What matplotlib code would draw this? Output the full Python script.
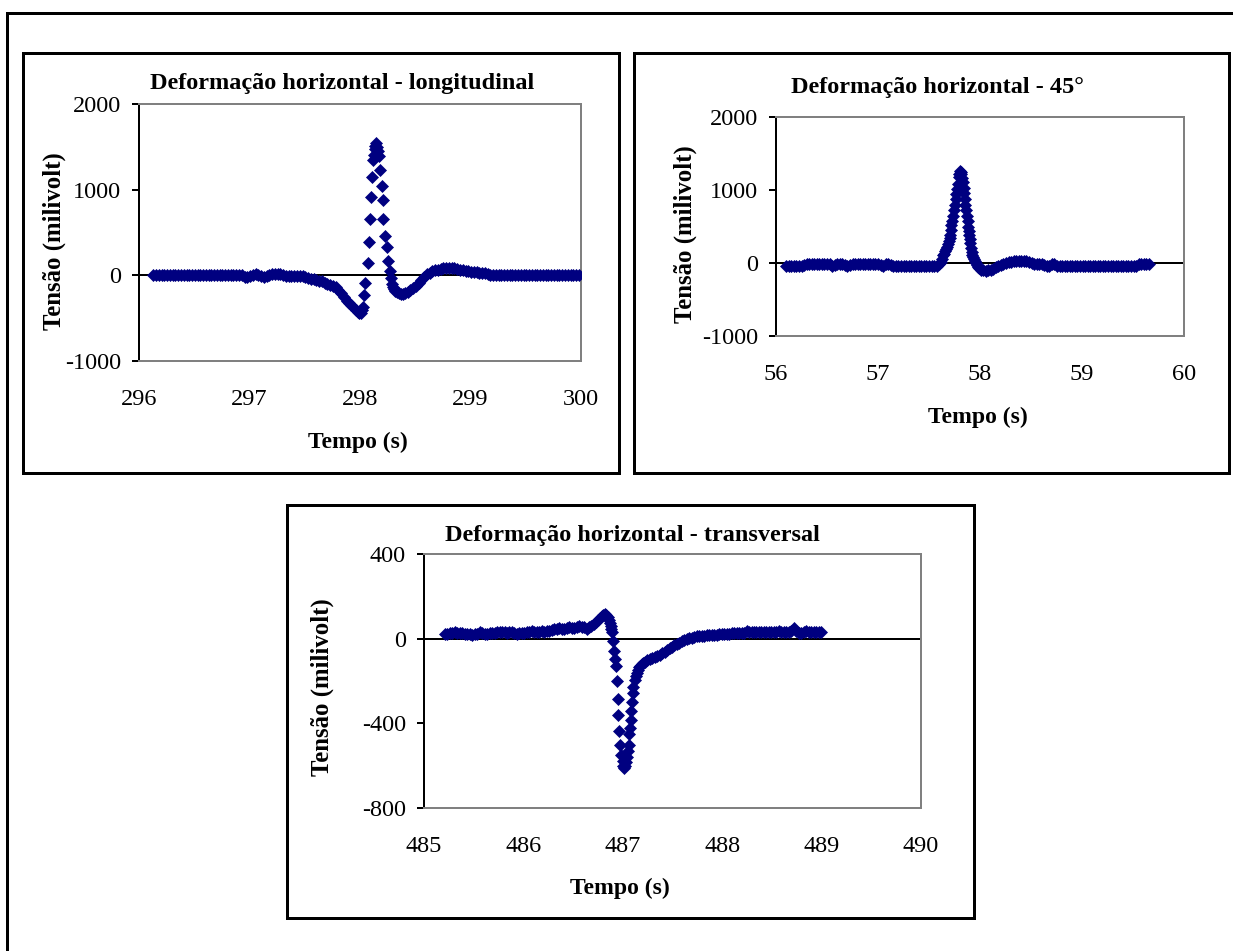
import matplotlib
matplotlib.use("Agg")
import matplotlib.pyplot as plt
from matplotlib.patches import Rectangle

plt.rcParams['font.family'] = ['Liberation Serif', 'DejaVu Serif']
plt.rcParams['axes.unicode_minus'] = False

# ---------------- data ----------------
# Panel 1: Deformação horizontal - longitudinal
t1_flat_a = [296.13, 296.155, 296.18, 296.205, 296.23, 296.255, 296.28, 296.305, 296.33, 296.355,
             296.38, 296.405, 296.43, 296.455, 296.48, 296.505, 296.53, 296.555, 296.58, 296.605,
             296.63, 296.655, 296.68, 296.705, 296.73, 296.755, 296.78, 296.805, 296.83, 296.855,
             296.88, 296.905, 296.93]
v1_flat_a = [0, 0, 0, 0, 0, 0, 0, 0, 0, 0,
             0, 0, 0, 0, 0, 0, 0, 0, 0, 0,
             0, 0, 0, 0, 0, 0, 0, 0, 0, 0,
             0, 0, 0]
t1_dip = [296.955, 296.98, 297.005, 297.03, 297.055, 297.08, 297.105, 297.13, 297.155, 297.18,
          297.205, 297.23, 297.255, 297.28, 297.305, 297.33, 297.355, 297.38, 297.405, 297.43,
          297.455, 297.48, 297.505, 297.53, 297.555, 297.58, 297.605, 297.63, 297.655, 297.68,
          297.705, 297.73, 297.755, 297.78, 297.805, 297.83, 297.855, 297.88, 297.90, 297.92,
          297.94, 297.96, 297.98, 297.995, 298.01, 298.02, 298.03]
v1_dip = [-15, -20, -10, 5, 10, 5, -10, -20, -10, 5,
          10, 10, 10, 10, 5, -5, -10, -10, -5, -10,
          -10, -10, -20, -35, -40, -45, -55, -65, -70, -85,
          -100, -110, -120, -140, -170, -210, -255, -295, -325, -350,
          -370, -400, -425, -445, -440, -410, -370]
t1_peak = [298.035, 298.043, 298.068, 298.085, 298.092, 298.104, 298.106, 298.12, 298.13, 298.135,
           298.14, 298.148, 298.155, 298.16, 298.175, 298.185, 298.195, 298.205, 298.21, 298.228,
           298.243, 298.255, 298.268, 298.28, 298.29, 298.30, 298.31, 298.32, 298.335, 298.35,
           298.37, 298.39, 298.41, 298.43, 298.455, 298.48, 298.505, 298.53, 298.555, 298.58,
           298.605, 298.63, 298.655, 298.68, 298.705, 298.73, 298.755, 298.78, 298.805, 298.83,
           298.855, 298.88, 298.905, 298.93, 298.955, 298.98, 299.005, 299.03, 299.055, 299.08,
           299.105, 299.13, 299.155, 299.18]
v1_peak = [-232, -86, 149, 385, 659, 910, 1145, 1341, 1400, 1470,
           1510, 1540, 1500, 1450, 1396, 1227, 1043, 874, 659, 463,
           325, 169, 51, -27, -106, -140, -165, -180, -195, -205,
           -215, -222, -212, -195, -172, -148, -120, -90, -55, -20,
           10, 30, 45, 60, 65, 70, 80, 90, 90, 85,
           80, 70, 65, 60, 55, 45, 40, 40, 35, 30,
           25, 30, 15, 5]
t1_flat_b = [299.205, 299.23, 299.255, 299.28, 299.305, 299.33, 299.355, 299.38, 299.405, 299.43,
             299.455, 299.48, 299.505, 299.53, 299.555, 299.58, 299.605, 299.63, 299.655, 299.68,
             299.705, 299.73, 299.755, 299.78, 299.805, 299.83, 299.855, 299.88, 299.905, 299.93,
             299.955, 299.98]
v1_flat_b = [0, 0, 0, 0, 0, 0, 0, 0, 0, 0,
             0, 0, 0, 0, 0, 0, 0, 0, 0, 0,
             0, 0, 0, 0, 0, 0, 0, 0, 0, 0,
             0, 0]

# Panel 2: Deformação horizontal - 45°
t2_flat_a = [56.100, 56.125, 56.150, 56.175, 56.200, 56.225, 56.250, 56.275, 56.300, 56.325,
             56.350, 56.375, 56.400, 56.425, 56.450, 56.475, 56.500, 56.525, 56.550, 56.575,
             56.600, 56.625, 56.650, 56.675, 56.700, 56.725, 56.750, 56.775, 56.800, 56.825,
             56.850, 56.875, 56.900, 56.925, 56.950, 56.975, 57.000, 57.025, 57.050, 57.075,
             57.100, 57.125, 57.150, 57.175, 57.200, 57.225, 57.250, 57.275, 57.300, 57.325,
             57.350, 57.375, 57.400, 57.425, 57.450, 57.475, 57.500, 57.525, 57.550, 57.575,
             57.600]
v2_flat_a = [-40, -40, -40, -40, -40, -40, -35, -30, -15, -10,
             -10, -10, -10, -10, -15, -10, -10, -15, -40, -25,
             -10, -10, -15, -30, -40, -30, -10, -10, -10, -10,
             -10, -10, -10, -10, -10, -10, -15, -30, -40, -20,
             -15, -25, -40, -40, -40, -40, -40, -40, -40, -40,
             -40, -40, -40, -40, -40, -40, -40, -40, -40, -40,
             -20]
t2_peak = [57.615, 57.63, 57.64, 57.65, 57.66, 57.67, 57.68, 57.69, 57.70, 57.705,
           57.71, 57.715, 57.72, 57.73, 57.735, 57.745, 57.75, 57.76, 57.765, 57.775,
           57.78, 57.79, 57.795, 57.80, 57.81, 57.815, 57.825, 57.83, 57.84, 57.845,
           57.85, 57.855, 57.865, 57.87, 57.878, 57.882, 57.888, 57.893, 57.90, 57.905,
           57.912, 57.918, 57.925, 57.93, 57.94, 57.95, 57.96, 57.97, 57.98, 57.99,
           58.005, 58.03, 58.055, 58.08, 58.105, 58.13, 58.155, 58.18, 58.205, 58.23,
           58.255, 58.28, 58.305, 58.33, 58.355, 58.38, 58.405, 58.43, 58.455, 58.48,
           58.505, 58.53, 58.555, 58.58, 58.605, 58.63, 58.655, 58.68, 58.705, 58.73,
           58.755]
v2_peak = [10, 60, 107, 130, 160, 190, 220, 260, 300, 340,
           385, 450, 524, 580, 639, 720, 801, 870, 940, 1010,
           1079, 1172, 1220, 1264, 1250, 1218, 1160, 1103, 1030, 960,
           880, 801, 720, 639, 570, 500, 440, 385, 330, 269,
           210, 153, 110, 80, 50, 25, 0, -30, -56, -75,
           -90, -100, -105, -100, -95, -80, -60, -45, -30, -15,
           0, 10, 20, 25, 30, 30, 30, 30, 25, 15,
           -5, -15, -15, -10, -15, -25, -40, -35, -10, -20,
           -40]
t2_flat_b = [58.78, 58.805, 58.83, 58.855, 58.88, 58.905, 58.93, 58.955, 58.98, 59.005,
             59.03, 59.055, 59.08, 59.105, 59.13, 59.155, 59.18, 59.205, 59.23, 59.255,
             59.28, 59.305, 59.33, 59.355, 59.38, 59.405, 59.43, 59.455, 59.48, 59.505,
             59.53, 59.555, 59.58, 59.605, 59.63, 59.655]
v2_flat_b = [-40, -40, -40, -40, -40, -40, -40, -40, -40, -40,
             -40, -40, -40, -40, -40, -40, -40, -40, -40, -40,
             -40, -40, -40, -40, -40, -40, -40, -40, -40, -40,
             -40, -15, -10, -10, -10, -15]

# Panel 3: Deformação horizontal - transversal
t3_pre = [485.21, 485.235, 485.26, 485.285, 485.31, 485.335, 485.36, 485.385, 485.41, 485.435,
          485.46, 485.485, 485.51, 485.535, 485.56, 485.585, 485.61, 485.635, 485.66, 485.685,
          485.71, 485.735, 485.76, 485.785, 485.81, 485.835, 485.86, 485.885, 485.91, 485.935,
          485.96, 485.985, 486.01, 486.035, 486.06, 486.085, 486.11, 486.135, 486.16, 486.185,
          486.21, 486.235, 486.26, 486.285, 486.31, 486.335, 486.36, 486.385, 486.41, 486.435,
          486.46, 486.485, 486.51, 486.535, 486.56, 486.585, 486.61, 486.635, 486.66, 486.685,
          486.71]
v3_pre = [20, 20, 25, 25, 30, 25, 25, 25, 20, 20,
          20, 15, 20, 20, 30, 25, 20, 20, 25, 25,
          25, 30, 30, 30, 30, 25, 30, 30, 25, 20,
          25, 25, 25, 30, 30, 35, 30, 30, 30, 35,
          30, 35, 35, 40, 45, 45, 50, 45, 45, 50,
          55, 50, 50, 55, 60, 55, 55, 45, 55, 60,
          70]
t3_trough = [486.735, 486.755, 486.775, 486.79, 486.805, 486.82, 486.835, 486.85, 486.86, 486.87,
             486.878, 486.885, 486.892, 486.90, 486.91, 486.925, 486.935, 486.94, 486.95, 486.955,
             486.965, 486.97, 486.985, 487.0, 487.005, 487.01, 487.02, 487.03, 487.04, 487.05,
             487.06, 487.065, 487.07, 487.08, 487.085, 487.09, 487.10, 487.105, 487.12, 487.13,
             487.14, 487.15, 487.16, 487.175, 487.19, 487.205, 487.22]
v3_trough = [78, 88, 98, 105, 112, 115, 112, 102, 90, 75,
             60, 45, 30, -12, -57, -95, -131, -202, -286, -360,
             -435, -503, -550, -580, -600, -610, -600, -585, -560, -530,
             -500, -450, -420, -384, -344, -300, -258, -226, -194, -175,
             -160, -147, -135, -127, -120, -115, -110]
t3_post = [487.245, 487.27, 487.295, 487.32, 487.345, 487.37, 487.395, 487.42, 487.445, 487.47,
           487.495, 487.52, 487.545, 487.57, 487.595, 487.62, 487.645, 487.67, 487.695, 487.72,
           487.745, 487.77, 487.795, 487.82, 487.845, 487.87, 487.895, 487.92, 487.945, 487.97,
           487.995, 488.02, 488.045, 488.07, 488.095, 488.12, 488.145, 488.17, 488.195, 488.22,
           488.245, 488.27, 488.295, 488.32, 488.345, 488.37, 488.395, 488.42, 488.445, 488.47,
           488.495, 488.52, 488.545, 488.57, 488.595, 488.62, 488.645, 488.67, 488.695, 488.72,
           488.745, 488.77, 488.795, 488.82, 488.845, 488.87, 488.895, 488.92, 488.945, 488.97,
           488.995]
v3_post = [-103, -97, -92, -86, -81, -75, -69, -62, -53, -46,
           -39, -32, -25, -19, -13, -7, -3, 2, 5, 8,
           11, 12, 13, 14, 16, 16, 18, 19, 18, 21,
           22, 23, 24, 22, 25, 27, 26, 27, 28, 28,
           36, 31, 30, 30, 30, 30, 30, 32, 30, 30,
           30, 30, 33, 35, 30, 30, 30, 30, 35, 50,
           38, 28, 25, 30, 35, 32, 30, 30, 30, 30,
           30]

titles = ["Deformação horizontal - longitudinal",
          "Deformação horizontal - 45°",
          "Deformação horizontal - transversal"]
xlabel = "Tempo (s)"
ylabel = "Tensão (milivolt)"
xticks1 = [296, 297, 298, 299, 300]
xticks2 = [56, 57, 58, 59, 60]
xticks3 = [485, 486, 487, 488, 489, 490]
yticks1 = [-1000, 0, 1000, 2000]
yticks2 = [-1000, 0, 1000, 2000]
yticks3 = [-800, -400, 0, 400]

t1 = t1_flat_a + t1_dip + t1_peak + t1_flat_b
v1 = v1_flat_a + v1_dip + v1_peak + v1_flat_b
t2 = t2_flat_a + t2_peak + t2_flat_b
v2 = v2_flat_a + v2_peak + v2_flat_b
t3 = t3_pre + t3_trough + t3_post
v3 = v3_pre + v3_trough + v3_post

# ---------------- layout ----------------
W, H = 1233, 951
fig = plt.figure(figsize=(W / 100, H / 100), dpi=100)
fig.patch.set_facecolor('white')
PT = 0.72  # points per pixel at 100 dpi


def fx(x):
    return x / W


def fy(y):
    return 1 - y / H


def box(l, t, r, b, lw=3):
    fig.patches.append(Rectangle((fx(l), fy(b)), (r - l) / W, (b - t) / H,
                                 transform=fig.transFigure, fill=False,
                                 edgecolor='black', linewidth=lw * PT))


# outer frame (extends past the right/bottom edges)
box(7, 13, 1250, 970, lw=3)

NAVY = '#000080'
TICK_FS = 17.5
TITLE_FS = 17.5
YLAB_FS = 17.8
XLAB_FS = 17


def panel(frame, area, t, v, xt, yt, title, title_xy, ylab_xy, xlab_xy):
    box(*frame, lw=3)
    l, tp, r, b = area
    ax = fig.add_axes([fx(l), fy(b), (r - l) / W, (b - tp) / H])
    ax.set_xlim(xt[0], xt[-1])
    ax.set_ylim(yt[0], yt[-1])
    for s in ['top', 'right', 'bottom']:
        ax.spines[s].set_color('#808080')
        ax.spines[s].set_linewidth(2 * PT)
    ax.spines['left'].set_color('black')
    ax.spines['left'].set_linewidth(2 * PT)
    ax.axhline(0, color='black', lw=2 * PT, zorder=1)
    ax.plot(t, v, ls='none', marker='D', ms=6.0, color=NAVY,
            mec=NAVY, mew=0.5, zorder=3)
    ax.set_xticks(xt)
    ax.set_xticklabels([str(x) for x in xt])
    ax.set_yticks(yt)
    ax.set_yticklabels([str(y) for y in yt])
    ax.tick_params(axis='y', direction='out', length=7 * PT, width=2 * PT,
                   pad=11 * PT, labelsize=TICK_FS, colors='black')
    ax.tick_params(axis='x', length=0, pad=28 * PT, labelsize=TICK_FS)
    fig.text(fx(title_xy[0]), fy(title_xy[1]), title, ha='center', va='center',
             fontsize=TITLE_FS, fontweight='bold')
    fig.text(fx(ylab_xy[0]), fy(ylab_xy[1]), ylabel, ha='center', va='center',
             rotation=90, fontsize=YLAB_FS, fontweight='bold')
    fig.text(fx(xlab_xy[0]), fy(xlab_xy[1]), xlabel, ha='center', va='center',
             fontsize=XLAB_FS, fontweight='bold')
    return ax


panel((23, 53, 619, 473), (139, 104, 581, 361), t1, v1, xticks1, yticks1,
      titles[0], (342, 84), (54, 241), (358, 442))
panel((634, 53, 1229, 473), (776, 117, 1184, 336), t2, v2, xticks2, yticks2,
      titles[1], (937, 88), (685, 234), (978, 417))
panel((287, 505, 974, 918), (424, 554, 921, 808), t3, v3, xticks3, yticks3,
      titles[2], (632, 535), (322, 687), (620, 888))

fig.savefig('out.png', dpi=100, facecolor='white')
